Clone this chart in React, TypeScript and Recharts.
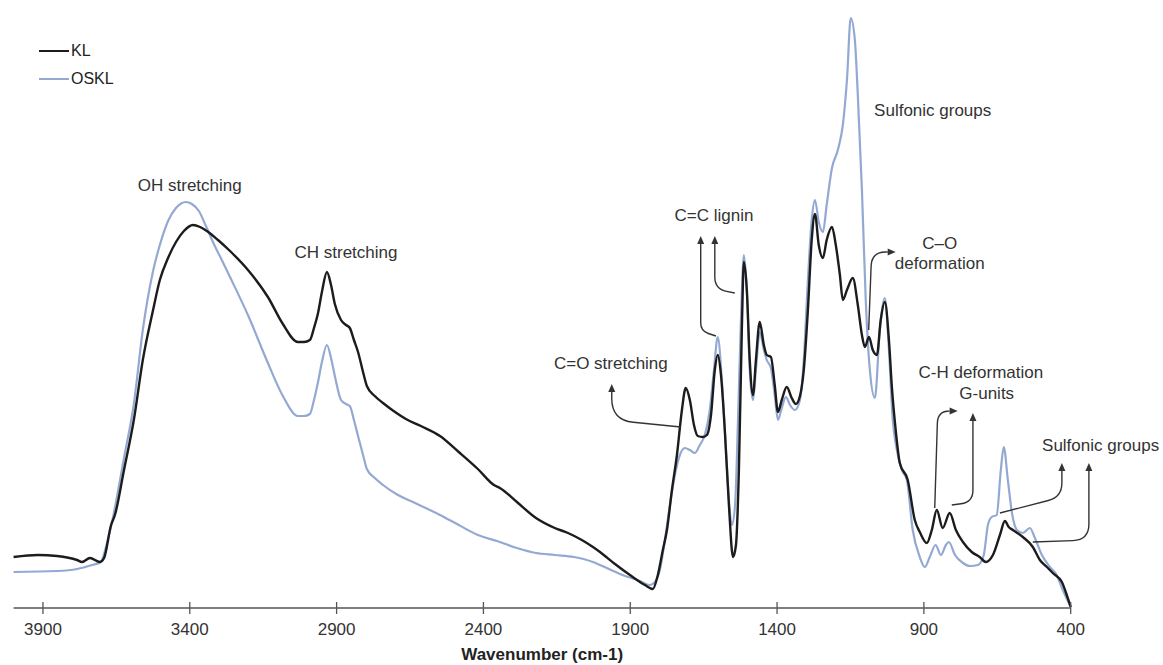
import React from 'react';
import { LineChart, Line, XAxis, YAxis, Legend, ReferenceDot, ReferenceLine } from 'recharts';

const FONT = "'Liberation Sans', Arial, Helvetica, sans-serif";

const xTicks = [3900, 3400, 2900, 2400, 1900, 1400, 900, 400];

const klWavenumber = [4000, 3917, 3852, 3784, 3767, 3740, 3706, 3692, 3668, 3655, 3624, 3590, 3560, 3525, 3502, 3474, 3447, 3420, 3389, 3365, 3342, 3304, 3263, 3199, 3134, 3083, 3032, 3011, 2991, 2977, 2964, 2950, 2933, 2919, 2906, 2885, 2868, 2855, 2841, 2827, 2810, 2797, 2770, 2742, 2701, 2664, 2613, 2548, 2484, 2419, 2364, 2344, 2286, 2221, 2157, 2112, 2065, 2027, 2003, 1952, 1901, 1850, 1823, 1806, 1789, 1775, 1758, 1741, 1724, 1711, 1697, 1683, 1670, 1653, 1639, 1625, 1612, 1602, 1591, 1578, 1564, 1550, 1540, 1530, 1520, 1513, 1503, 1493, 1482, 1472, 1459, 1445, 1435, 1421, 1408, 1397, 1384, 1367, 1350, 1336, 1322, 1309, 1295, 1282, 1271, 1258, 1244, 1231, 1213, 1200, 1186, 1176, 1162, 1142, 1125, 1111, 1101, 1087, 1074, 1060, 1047, 1033, 1019, 1009, 996, 982, 955, 931, 914, 890, 873, 856, 836, 812, 791, 767, 737, 710, 689, 665, 641, 624, 611, 597, 563, 529, 505, 481, 461, 430, 417, 400];
const klAbsorbance = [0.51, 0.53, 0.52, 0.48, 0.46, 0.50, 0.46, 0.50, 0.83, 0.93, 1.38, 1.89, 2.48, 2.98, 3.28, 3.50, 3.66, 3.77, 3.83, 3.81, 3.77, 3.68, 3.57, 3.37, 3.11, 2.84, 2.66, 2.66, 2.68, 2.80, 2.94, 3.16, 3.36, 3.23, 3.04, 2.88, 2.83, 2.80, 2.68, 2.56, 2.36, 2.22, 2.12, 2.05, 1.96, 1.89, 1.82, 1.72, 1.56, 1.39, 1.23, 1.20, 1.06, 0.90, 0.80, 0.75, 0.68, 0.61, 0.56, 0.44, 0.33, 0.23, 0.19, 0.33, 0.58, 0.78, 1.18, 1.53, 1.98, 2.20, 2.08, 1.83, 1.72, 1.71, 1.73, 1.93, 2.38, 2.53, 2.33, 1.78, 1.03, 0.51, 0.63, 1.38, 2.78, 3.46, 3.18, 2.48, 2.13, 2.48, 2.86, 2.63, 2.53, 2.51, 2.23, 1.96, 2.08, 2.21, 2.10, 2.04, 2.12, 2.38, 2.98, 3.68, 3.94, 3.63, 3.50, 3.68, 3.81, 3.63, 3.33, 3.08, 3.18, 3.30, 3.03, 2.73, 2.61, 2.71, 2.58, 2.53, 2.88, 3.06, 2.68, 2.21, 1.78, 1.45, 1.28, 0.88, 0.76, 0.65, 0.78, 0.98, 0.80, 0.95, 0.78, 0.66, 0.56, 0.51, 0.46, 0.53, 0.73, 0.87, 0.81, 0.78, 0.71, 0.61, 0.48, 0.41, 0.35, 0.26, 0.16, 0.01];

const osklWavenumber = [4000, 3852, 3784, 3733, 3703, 3682, 3662, 3624, 3590, 3560, 3525, 3502, 3474, 3447, 3413, 3393, 3369, 3345, 3318, 3291, 3263, 3199, 3134, 3083, 3032, 3011, 2991, 2977, 2964, 2950, 2933, 2919, 2906, 2885, 2868, 2855, 2841, 2827, 2810, 2797, 2770, 2742, 2691, 2640, 2548, 2484, 2419, 2354, 2286, 2221, 2157, 2092, 2027, 2003, 1935, 1867, 1833, 1816, 1799, 1782, 1765, 1748, 1731, 1714, 1697, 1680, 1663, 1646, 1629, 1615, 1602, 1588, 1574, 1564, 1554, 1543, 1533, 1523, 1513, 1503, 1493, 1482, 1472, 1459, 1445, 1435, 1421, 1408, 1397, 1384, 1370, 1356, 1339, 1322, 1309, 1295, 1282, 1271, 1258, 1244, 1231, 1213, 1193, 1176, 1162, 1149, 1135, 1125, 1111, 1098, 1084, 1067, 1050, 1033, 1019, 1006, 992, 975, 958, 938, 914, 897, 880, 860, 842, 825, 815, 794, 767, 743, 716, 696, 682, 669, 652, 638, 628, 614, 600, 583, 563, 539, 522, 498, 471, 448, 427, 400];
const osklAbsorbance = [0.36, 0.37, 0.39, 0.43, 0.46, 0.65, 0.90, 1.50, 2.05, 2.78, 3.37, 3.63, 3.87, 4.00, 4.06, 4.04, 3.97, 3.82, 3.64, 3.48, 3.31, 2.91, 2.45, 2.12, 1.92, 1.92, 1.94, 2.08, 2.25, 2.46, 2.63, 2.50, 2.32, 2.08, 2.04, 2.02, 1.88, 1.72, 1.53, 1.39, 1.30, 1.23, 1.13, 1.06, 0.93, 0.83, 0.73, 0.67, 0.60, 0.55, 0.53, 0.51, 0.46, 0.43, 0.34, 0.27, 0.23, 0.26, 0.38, 0.68, 1.03, 1.33, 1.53, 1.60, 1.58, 1.55, 1.63, 1.73, 1.98, 2.38, 2.71, 2.28, 1.58, 1.08, 0.83, 1.03, 1.88, 2.88, 3.53, 3.18, 2.38, 2.08, 2.38, 2.76, 2.58, 2.48, 2.40, 2.13, 1.88, 2.00, 2.11, 2.03, 1.98, 2.08, 2.48, 3.28, 3.88, 4.08, 3.86, 3.76, 4.03, 4.40, 4.58, 4.83, 5.28, 5.90, 5.68, 5.13, 4.18, 3.08, 2.38, 2.10, 2.78, 3.10, 2.58, 1.88, 1.58, 1.38, 1.28, 0.78, 0.51, 0.41, 0.51, 0.63, 0.53, 0.63, 0.66, 0.53, 0.45, 0.42, 0.43, 0.53, 0.83, 0.91, 0.93, 1.38, 1.61, 1.28, 0.95, 0.78, 0.75, 0.80, 0.70, 0.53, 0.41, 0.33, 0.18, 0.01];

const seriesNames = ['KL', 'OSKL'];
const seriesColors = ['#1c1c1c', '#93a9d3'];

// annotation texts: [text, wavenumber, absorbance]
const annotationTexts: [string, number, number][] = [
  ['OH stretching', 3400, 4.23],
  ['CH stretching', 2868, 3.56],
  ['C=O stretching', 1966, 2.45],
  ['C=C lignin', 1615, 3.93],
  ['Sulfonic groups', 870, 4.98],
  ['C\u2013O', 846, 3.65],
  ['deformation', 846, 3.45],
  ['C-H deformation', 706, 2.36],
  ['G-units', 686, 2.15],
  ['Sulfonic groups', 298, 1.63],
];

// arrows: [fromWn, fromAbs, toWn, toAbs, mode, cornerFraction, radius]
const annotationArrows: [number, number, number, number, string, number, number][] = [
  [1728, 1.81, 1963, 2.24, 'hv', 0.16, 24],
  [1608, 2.72, 1660, 3.72, 'hv', 0.05, 8],
  [1544, 3.15, 1612, 3.72, 'hv', 0.07, 12],
  [1088, 2.78, 996, 3.56, 'vh', 0.11, 14],
  [863, 1.0, 785, 1.97, 'vh', 0.13, 14],
  [805, 1.03, 733, 1.95, 'hv', 0.03, 12],
  [641, 0.95, 430, 1.45, 'hv', 0.32, 14],
  [529, 0.66, 338, 1.45, 'hv', 0.025, 16],
];

const klData = klWavenumber.map((wn, i) => ({ wn, a: klAbsorbance[i] }));
const osklData = osklWavenumber.map((wn, i) => ({ wn, a: osklAbsorbance[i] }));

const ANN_COLOR = '#333';

function makeArrowShape(mode: string, t: number, r: number) {
  return (p: any) => {
    const { x1, y1, x2, y2 } = p;
    const cx = mode === 'hv' ? x2 : x1 + t * (x2 - x1);
    const cy = mode === 'hv' ? y1 + t * (y2 - y1) : y2;
    const d1x = cx - x1, d1y = cy - y1;
    const l1 = Math.hypot(d1x, d1y) || 1;
    const d2x = x2 - cx, d2y = y2 - cy;
    const l2 = Math.hypot(d2x, d2y) || 1;
    const rr = Math.min(r, l1 * 0.9, l2 * 0.6);
    const ax = cx - (d1x / l1) * rr, ay = cy - (d1y / l1) * rr;
    const bx = cx + (d2x / l2) * rr, by = cy + (d2y / l2) * rr;
    const ux = d2x / l2, uy = d2y / l2;
    const hl = 8, hw = 3.5;
    const baseX = x2 - ux * hl, baseY = y2 - uy * hl;
    const d = `M${x1},${y1} L${ax},${ay} Q${cx},${cy} ${bx},${by} L${baseX},${baseY}`;
    const pts = `${x2},${y2} ${baseX - uy * hw},${baseY + ux * hw} ${baseX + uy * hw},${baseY - ux * hw}`;
    return (
      <g>
        <path d={d} fill="none" stroke={ANN_COLOR} strokeWidth={1.4} />
        <polygon points={pts} fill={ANN_COLOR} />
      </g>
    );
  };
}

const AxisTick = (props: any) => {
  const { x, y, payload } = props;
  return (
    <g>
      <line x1={x} x2={x} y1={y - 6} y2={y + 6} stroke="#555" strokeWidth={1.3} />
      <text x={x} y={y + 27} textAnchor="middle" fontSize={17} fill="#333" fontFamily={FONT}>
        {payload.value}
      </text>
    </g>
  );
};

const LegendContent = () => (
  <div style={{ fontFamily: FONT, fontSize: 16, color: '#222' }}>
    {seriesNames.map((name, i) => (
      <div key={name} style={{ display: 'flex', alignItems: 'center', height: 28 }}>
        <span style={{ display: 'inline-block', width: 30, height: 0, borderTop: `2.5px solid ${seriesColors[i]}`, marginRight: 2 }} />
        <span>{name}</span>
      </div>
    ))}
  </div>
);

export default function App() {
  return (
    <div style={{ position: 'absolute', left: 0, top: 0, width: 1163, height: 665, background: '#fff' }}>
      <LineChart width={1163} height={665} margin={{ top: 8, right: 92.3, bottom: 0, left: 13.6 }}>
        <XAxis
          dataKey="wn"
          type="number"
          domain={[400, 4000]}
          reversed
          ticks={xTicks}
          interval={0}
          height={57}
          tickSize={0}
          tickMargin={0}
          tickLine={false}
          tick={<AxisTick />}
          axisLine={{ stroke: '#555', strokeWidth: 1.5 }}
          label={{ value: 'Wavenumber (cm-1)', position: 'insideBottom', offset: 5, style: { fontFamily: FONT, fontSize: 17, fontWeight: 'bold', fill: '#222' } }}
        />
        <YAxis hide type="number" domain={[0, 6]} />
        <Legend
          layout="vertical"
          align="center"
          verticalAlign="middle"
          wrapperStyle={{ left: 39, top: 37, width: 120 }}
          content={<LegendContent />}
        />
        <Line data={osklData} dataKey="a" name="OSKL" type="monotone" stroke={seriesColors[1]} strokeWidth={2.2} dot={false} isAnimationActive={false} />
        <Line data={klData} dataKey="a" name="KL" type="monotone" stroke={seriesColors[0]} strokeWidth={2.4} dot={false} isAnimationActive={false} />
        {annotationArrows.map((ar, i) => (
          <ReferenceLine
            key={`arrow-${i}`}
            segment={[{ x: ar[0], y: ar[1] }, { x: ar[2], y: ar[3] }]}
            ifOverflow="visible"
            shape={makeArrowShape(ar[4], ar[5], ar[6])}
          />
        ))}
        {annotationTexts.map((t, i) => (
          <ReferenceDot
            key={`text-${i}`}
            x={t[1]}
            y={t[2]}
            ifOverflow="visible"
            shape={(p: any) => (
              <text x={p.cx} y={p.cy} textAnchor="middle" dominantBaseline="central" fontSize={17} fill={ANN_COLOR} fontFamily={FONT}>
                {t[0]}
              </text>
            )}
          />
        ))}
      </LineChart>
    </div>
  );
}
